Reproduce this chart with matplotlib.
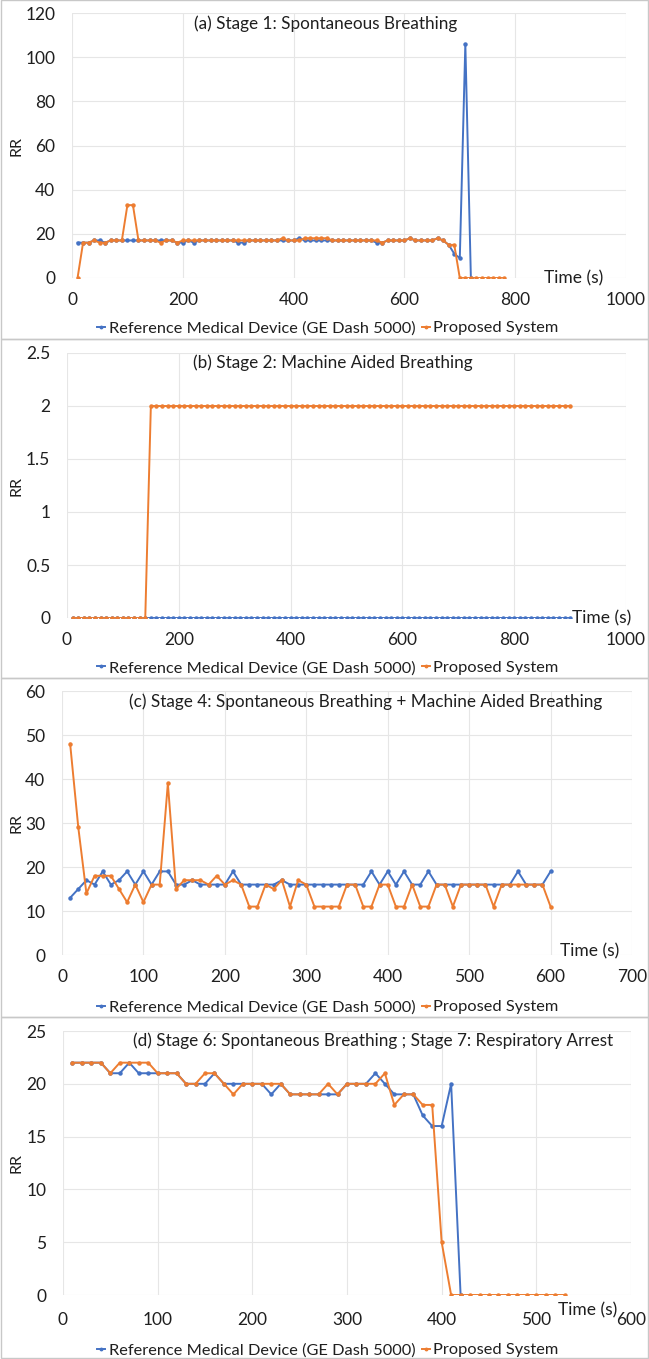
import matplotlib
matplotlib.use("Agg")
import matplotlib.pyplot as plt
import numpy as np
from matplotlib.patches import Rectangle
from matplotlib.ticker import FuncFormatter

plt.rcParams['font.family'] = ['Lato', 'DejaVu Sans']

BLUE = '#4472C4'
ORANGE = '#ED7D31'
TXT = '#1F1F1F'

# ---- data ----
# (a) Stage 1
t_a_ref = np.arange(10, 730, 10)
rr_a_ref = [16, 16, 16, 17, 17, 16, 17, 17, 17, 17, 17, 17,
            17, 17, 17, 17, 17, 17, 16, 16, 17, 16, 17, 17,
            17, 17, 17, 17, 17, 16, 16, 17, 17, 17, 17, 17,
            17, 17, 17, 17, 18, 17, 17, 17, 17, 17, 17, 17,
            17, 17, 17, 17, 17, 17, 16, 16, 17, 17, 17, 17,
            18, 17, 17, 17, 17, 18, 17, 15, 11, 9, 106, 0]
t_a_prop = np.arange(10, 790, 10)
rr_a_prop = [0, 16, 16, 17, 16, 16, 17, 17, 17, 33, 33, 17,
             17, 17, 17, 16, 17, 17, 16, 17, 17, 17, 17, 17,
             17, 17, 17, 17, 17, 17, 17, 17, 17, 17, 17, 17,
             17, 18, 17, 17, 17, 18, 18, 18, 18, 18, 17, 17,
             17, 17, 17, 17, 17, 17, 17, 16, 17, 17, 17, 17,
             18, 17, 17, 17, 17, 18, 17, 15, 15, 0, 0, 0,
             0, 0, 0, 0, 0, 0]

# (b) Stage 2
t_b = np.arange(10, 910, 10)
rr_b_ref = [0] * 90
rr_b_prop = [0] * 14 + [2] * 76

# (c) Stage 4
t_c = np.arange(10, 610, 10)
rr_c_ref = [13, 15, 17, 16, 19, 16, 17, 19, 16, 19, 16, 19,
            19, 16, 16, 17, 16, 16, 16, 16, 19, 16, 16, 16,
            16, 16, 17, 16, 16, 16, 16, 16, 16, 16, 16, 16,
            16, 19, 16, 19, 16, 19, 16, 16, 19, 16, 16, 16,
            16, 16, 16, 16, 16, 16, 16, 19, 16, 16, 16, 19]
rr_c_prop = [48, 29, 14, 18, 18, 18, 15, 12, 16, 12, 16, 16,
             39, 15, 17, 17, 17, 16, 18, 16, 17, 16, 11, 11,
             16, 15, 17, 11, 17, 16, 11, 11, 11, 11, 16, 16,
             11, 11, 16, 16, 11, 11, 16, 11, 11, 16, 16, 11,
             16, 16, 16, 16, 11, 16, 16, 16, 16, 16, 16, 11]

# (d) Stage 6 / 7
t_d_ref = np.arange(10, 430, 10)
rr_d_ref = [22, 22, 22, 22, 21, 21, 22, 21, 21, 21, 21, 21,
            20, 20, 20, 21, 20, 20, 20, 20, 20, 19, 20, 19,
            19, 19, 19, 19, 19, 20, 20, 20, 21, 20, 19, 19,
            19, 17, 16, 16, 20, 0]
t_d_prop = np.arange(10, 540, 10)
rr_d_prop = [22, 22, 22, 22, 21, 22, 22, 22, 22, 21, 21, 21,
             20, 20, 21, 21, 20, 19, 20, 20, 20, 20, 20, 19,
             19, 19, 19, 20, 19, 20, 20, 20, 20, 21, 18, 19,
             19, 18, 18, 5, 0, 0, 0, 0, 0, 0, 0, 0,
             0, 0, 0, 0, 0]

titles = ['(a) Stage 1: Spontaneous Breathing',
          '(b) Stage 2: Machine Aided Breathing',
          '(c) Stage 4: Spontaneous Breathing + Machine Aided Breathing',
          '(d) Stage 6: Spontaneous Breathing ; Stage 7: Respiratory Arrest']
ref_label = 'Reference Medical Device (GE Dash 5000)'
prop_label = 'Proposed System'

W, H = 649, 1359
fig = plt.figure(figsize=(W / 100, H / 100), dpi=100)

# panel frames (px, from top)
frames = [(0, 339), (339, 678), (678, 1017), (1017, 1358)]
for top, bot in frames:
    fig.patches.append(Rectangle((0.6 / W, 1 - bot / H), (W - 1.2) / W, (bot - top) / H,
                                 transform=fig.transFigure, fill=False,
                                 edgecolor='#C8C8C8', lw=1.0))

# plot area boxes: left, right, top, bottom in px
boxes = [(72, 626, 13, 278), (67, 626, 353, 618), (62, 632, 691, 955), (63, 631, 1031, 1295)]
series = [(t_a_ref, rr_a_ref, t_a_prop, rr_a_prop),
          (t_b, rr_b_ref, t_b, rr_b_prop),
          (t_c, rr_c_ref, t_c, rr_c_prop),
          (t_d_ref, rr_d_ref, t_d_prop, rr_d_prop)]
xlims = [(0, 1000, 200), (0, 1000, 200), (0, 700, 100), (0, 600, 100)]
ylims = [(0, 120, 20), (0, 2.5, 0.5), (0, 60, 10), (0, 25, 5)]
title_pos = [(0.457, 0.96), (0.476, 0.962), (0.532, 0.96), (0.546, 0.962)]
time_pos = [(0.852, 0.0), (0.903, 0.0), (0.873, 0.015), (0.871, -0.06)]
legend_y = [328, 668, 1007, 1350]

for i in range(4):
    l, r, t, b = boxes[i]
    ax = fig.add_axes([l / W, 1 - b / H, (r - l) / W, (b - t) / H])
    x1, y1, x2, y2 = series[i]
    ax.plot(x1, y1, color=BLUE, lw=1.4, marker='o', ms=2.2, label=ref_label, zorder=3)
    ax.plot(x2, y2, color=ORANGE, lw=1.4, marker='o', ms=2.2, label=prop_label, zorder=4)

    x0, xm, xs = xlims[i]
    ax.set_xlim(x0, xm)
    ax.set_xticks(np.arange(x0, xm + xs / 2, xs))
    y0, ym, ys = ylims[i]
    ax.set_ylim(y0, ym)
    ax.set_yticks(np.arange(y0, ym + ys / 2, ys))
    ax.yaxis.set_major_formatter(FuncFormatter(lambda v, p: '%g' % v))

    for s in ax.spines.values():
        s.set_visible(False)
    ax.grid(True, color='#E6E6E6', lw=0.8)
    ax.set_axisbelow(True)
    ax.tick_params(length=0, labelsize=12.5, colors=TXT)
    ax.tick_params(axis='x', pad=10 if i < 3 else 12)
    ax.tick_params(axis='y', pad=12)
    for lab in ax.get_xticklabels() + ax.get_yticklabels():
        lab.set_clip_on(False)

    ax.set_ylabel('RR', fontsize=11.5, color=TXT)
    ax.yaxis.set_label_coords((23 - l) / (r - l), 0.5)

    ax.text(title_pos[i][0], title_pos[i][1], titles[i], transform=ax.transAxes,
            ha='center', va='center', fontsize=12.3, color=TXT)
    ax.text(time_pos[i][0], time_pos[i][1], 'Time (s)', transform=ax.transAxes,
            ha='left', va='center', fontsize=12.5, color=TXT)

    ax.legend(loc='center', bbox_to_anchor=(328 / W, 1 - legend_y[i] / H),
              bbox_transform=fig.transFigure, ncol=2, frameon=False,
              fontsize=11.8, handlelength=0.5, handletextpad=0.2,
              columnspacing=0.4, markerscale=0.8, labelcolor=TXT)

fig.savefig('out.png', dpi=100)
